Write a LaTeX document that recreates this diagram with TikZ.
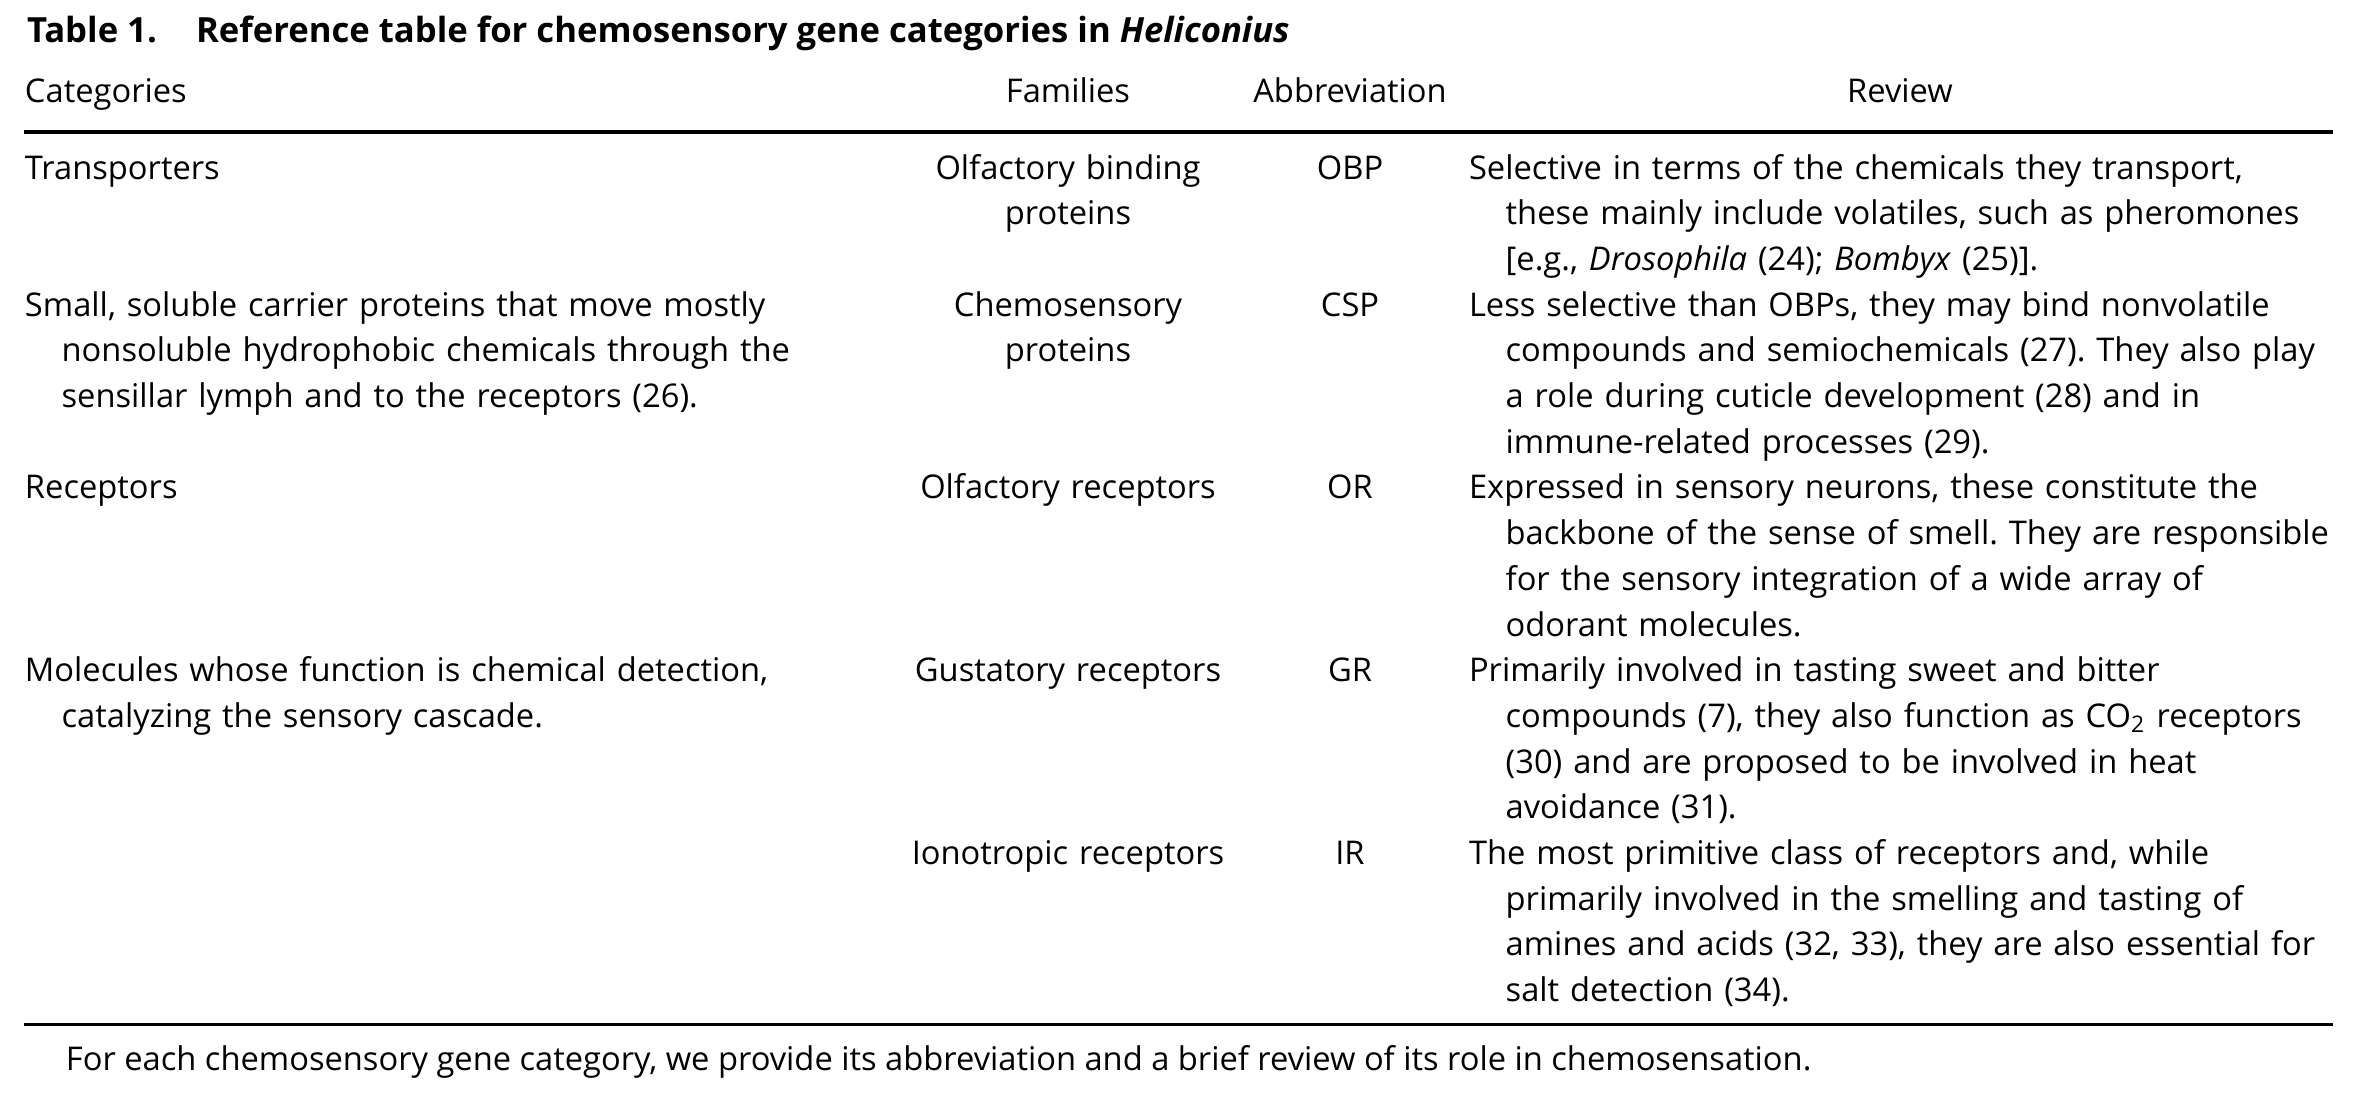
\documentclass[tikz,border=0pt]{standalone}
\usepackage{fontspec}
\setmainfont{Open Sans}
\usetikzlibrary{positioning}
\frenchspacing
\tikzstyle{tableau} = [x = 0.3pt, y = -0.3pt, every node/.style={inner sep=0pt, outer sep=0pt}]
\tikzstyle{bodyText} = [font=\fontsize{9.8}{13.71}\selectfont]
\tikzstyle{titleText} = [font=\fontsize{10.4}{13.71}\selectfont\bfseries, anchor=base west]
\tikzstyle{headText} = [bodyText, anchor=base]
\tikzstyle{catCell} = [bodyText, anchor=base west, align=left, text width=280pt]
\tikzstyle{famCell} = [bodyText, anchor=base, align=center, text width=120pt]
\tikzstyle{abbrCell} = [bodyText, anchor=base]
\tikzstyle{reviewCell} = [bodyText, anchor=base west, align=left, text width=280pt]
\tikzstyle{thickRule} = [line width=1.2pt]
\tikzstyle{thinRule} = [line width=0.9pt]
\newcommand{\rowY}[1]{179 + 45.7 * #1}
\newcommand{\indentLine}{\hspace*{11pt}}
\newcommand{\tableRow}[6]{
  \node [catCell] (cat#1) at (25, {\rowY{#2}}) {#3};
  \node [famCell] (fam#1) at (1068, {\rowY{#2}}) {#4};
  \node [abbrCell] (abbr#1) at (1350, {\rowY{#2}}) {#5};
  \node [reviewCell] (rev#1) at (1469, {\rowY{#2}}) {#6};
}

\begin{document}
\begin{tikzpicture}[tableau]
  \useasboundingbox (0,0) rectangle (2368,1100);
  % title
  \node [titleText] (tableNumber) at (27, 42) {Table 1.};
  \node [titleText] (tableTitle) at (196, 42) {Reference table for chemosensory gene categories in \textit{Heliconius}};
  % header
  \node [bodyText, anchor=base west] (headCat) at (25, 102) {Categories};
  \node [headText] (headFam) at (1068, 102) {Families};
  \node [headText] (headAbbr) at (1350, 102) {Abbreviation};
  \node [headText] (headRev) at (1900, 102) {Review};
  \draw [thickRule] (24, 131.5) -- (2333, 131.5);
  % rows
  \tableRow{1}{0}{Transporters}{Olfactory binding\\proteins}{OBP}{Selective in terms of the chemicals they transport,\\\indentLine these mainly include volatiles, such as pheromones\\\indentLine [e.g., \textit{Drosophila} (24); \textit{Bombyx} (25)].}
  \tableRow{2}{3}{Small, soluble carrier proteins that move mostly\\\indentLine nonsoluble hydrophobic chemicals through the\\\indentLine sensillar lymph and to the receptors (26).}{Chemosensory\\proteins}{CSP}{Less selective than OBPs, they may bind nonvolatile\\\indentLine compounds and semiochemicals (27). They also play\\\indentLine a role during cuticle development (28) and in\\\indentLine immune-related processes (29).}
  \tableRow{3}{7}{Receptors}{Olfactory receptors}{OR}{Expressed in sensory neurons, these constitute the\\\indentLine backbone of the sense of smell. They are responsible\\\indentLine for the sensory integration of a wide array of\\\indentLine odorant molecules.}
  \tableRow{4}{11}{Molecules whose function is chemical detection,\\\indentLine catalyzing the sensory cascade.}{Gustatory receptors}{GR}{Primarily involved in tasting sweet and bitter\\\indentLine compounds (7), they also function as CO\textsubscript{2} receptors\\\indentLine (30) and are proposed to be involved in heat\\\indentLine avoidance (31).}
  \tableRow{5}{15}{}{Ionotropic receptors}{IR}{The most primitive class of receptors and, while\\\indentLine primarily involved in the smelling and tasting of\\\indentLine amines and acids (32, 33), they are also essential for\\\indentLine salt detection (34).}
  \draw [thinRule] (24, 1024) -- (2333, 1024);
  % footnote
  \node [bodyText, anchor=base west] (footNote) at (66, 1070) {For each chemosensory gene category, we provide its abbreviation and a brief review of its role in chemosensation.};
\end{tikzpicture}
\end{document}
